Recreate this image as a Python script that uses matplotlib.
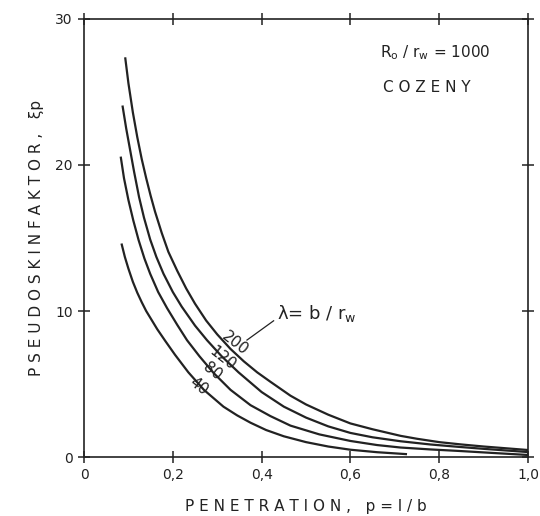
import matplotlib
matplotlib.use("Agg")
import matplotlib.pyplot as plt

# curves, lambda = b / r_w
x_200 = [0.093, 0.100, 0.110, 0.120, 0.130, 0.140, 0.150, 0.160, 0.175, 0.190, 0.210, 0.230, 0.250,
         0.275, 0.300, 0.330, 0.360, 0.390, 0.420, 0.465, 0.500, 0.550, 0.600, 0.650, 0.713, 0.750,
         0.800, 0.850, 0.900, 0.950, 1.000]
y_200 = [27.3, 25.6, 23.6, 21.9, 20.4, 19.1, 17.9, 16.8, 15.35, 14.05, 12.75, 11.55, 10.5,
         9.35, 8.4, 7.4, 6.55, 5.8, 5.15, 4.2, 3.6, 2.9, 2.3, 1.9, 1.45, 1.25,
         1.02, 0.86, 0.72, 0.60, 0.48]

x_120 = [0.087, 0.095, 0.104, 0.113, 0.124, 0.135, 0.149, 0.163, 0.179, 0.200, 0.220, 0.250, 0.277,
         0.310, 0.348, 0.400, 0.450, 0.500, 0.550, 0.600, 0.650, 0.713, 0.780, 0.842, 0.900, 0.950, 1.000]
y_120 = [24.0, 22.5, 21.0, 19.5, 17.8, 16.4, 14.9, 13.7, 12.55, 11.3, 10.3, 9.0, 8.0,
         6.9, 5.8, 4.45, 3.45, 2.7, 2.1, 1.65, 1.35, 1.08, 0.86, 0.70, 0.56, 0.45, 0.34]

x_80 = [0.083, 0.090, 0.100, 0.111, 0.123, 0.136, 0.149, 0.167, 0.187, 0.210, 0.232, 0.260, 0.292,
        0.330, 0.375, 0.420, 0.465, 0.530, 0.600, 0.660, 0.713, 0.780, 0.842, 0.920, 1.000]
y_80 = [20.5, 19.1, 17.6, 16.2, 14.85, 13.6, 12.55, 11.3, 10.2, 9.05, 8.0, 6.9, 5.75,
        4.6, 3.55, 2.8, 2.15, 1.55, 1.1, 0.82, 0.65, 0.52, 0.42, 0.28, 0.14]

x_40 = [0.085, 0.092, 0.100, 0.110, 0.120, 0.130, 0.140, 0.152, 0.165, 0.183, 0.205, 0.235, 0.270,
        0.314, 0.345, 0.375, 0.410, 0.450, 0.500, 0.550, 0.600, 0.660, 0.725]
y_40 = [14.55, 13.7, 12.9, 12.0, 11.25, 10.6, 10.0, 9.4, 8.75, 7.95, 7.0, 5.8, 4.6,
        3.45, 2.85, 2.35, 1.85, 1.42, 1.02, 0.72, 0.50, 0.33, 0.20]

curve_labels = ["200", "120", "80", "40"]
label_x = [0.341, 0.311, 0.288, 0.258]
label_y = [7.78, 6.76, 5.86, 4.82]

xticks = [0, 0.2, 0.4, 0.6, 0.8, 1.0]
xticklabels = ["0", "0,2", "0,4", "0,6", "0,8", "1,0"]
yticks = [0, 10, 20, 30]
yticklabels = ["0", "10", "20", "30"]

ink = "#222222"

fig = plt.figure(figsize=(5.4, 5.16), dpi=100)
ax = fig.add_axes([0.1556, 0.1143, 0.8222, 0.8489])

for xs, ys in [(x_200, y_200), (x_120, y_120), (x_80, y_80), (x_40, y_40)]:
    ax.plot(xs, ys, color=ink, lw=1.6, solid_joinstyle="round")

for lab, lx, ly in zip(curve_labels, label_x, label_y):
    ax.text(lx, ly, lab, rotation=-38, ha="center", va="center",
            fontsize=11, color=ink)

# lambda note with leader line
ax.plot([0.367, 0.427], [8.01, 9.33], color=ink, lw=0.9)
ax.text(0.435, 9.86, r"λ= b / r$_{\mathrm{w}}$", fontsize=13, ha="left",
        va="center", color=ink)

ax.text(0.79, 27.7, r"R$_{\mathrm{o}}$ / r$_{\mathrm{w}}$ = 1000", fontsize=11,
        ha="center", va="center", color=ink)
ax.text(0.771, 25.3, "C O Z E N Y", fontsize=11, ha="center", va="center",
        color=ink)

ax.set_xlim(0, 1.0)
ax.set_ylim(0, 30)
ax.set_xticks(xticks)
ax.set_xticklabels(xticklabels)
ax.set_yticks(yticks)
ax.set_yticklabels(yticklabels)
ax.tick_params(direction="inout", length=8, width=1.1, top=True, right=True,
               labelsize=10, pad=4, colors=ink)
for sp in ax.spines.values():
    sp.set_linewidth(1.2)
    sp.set_color(ink)

ax.set_xlabel("P E N E T R A T I O N ,   p = l / b", fontsize=11, color=ink, labelpad=12)
ax.set_ylabel("P S E U D O S K I N F A K T O R ,   ξp", fontsize=11, color=ink, labelpad=8)

fig.savefig("out.png", dpi=100)
